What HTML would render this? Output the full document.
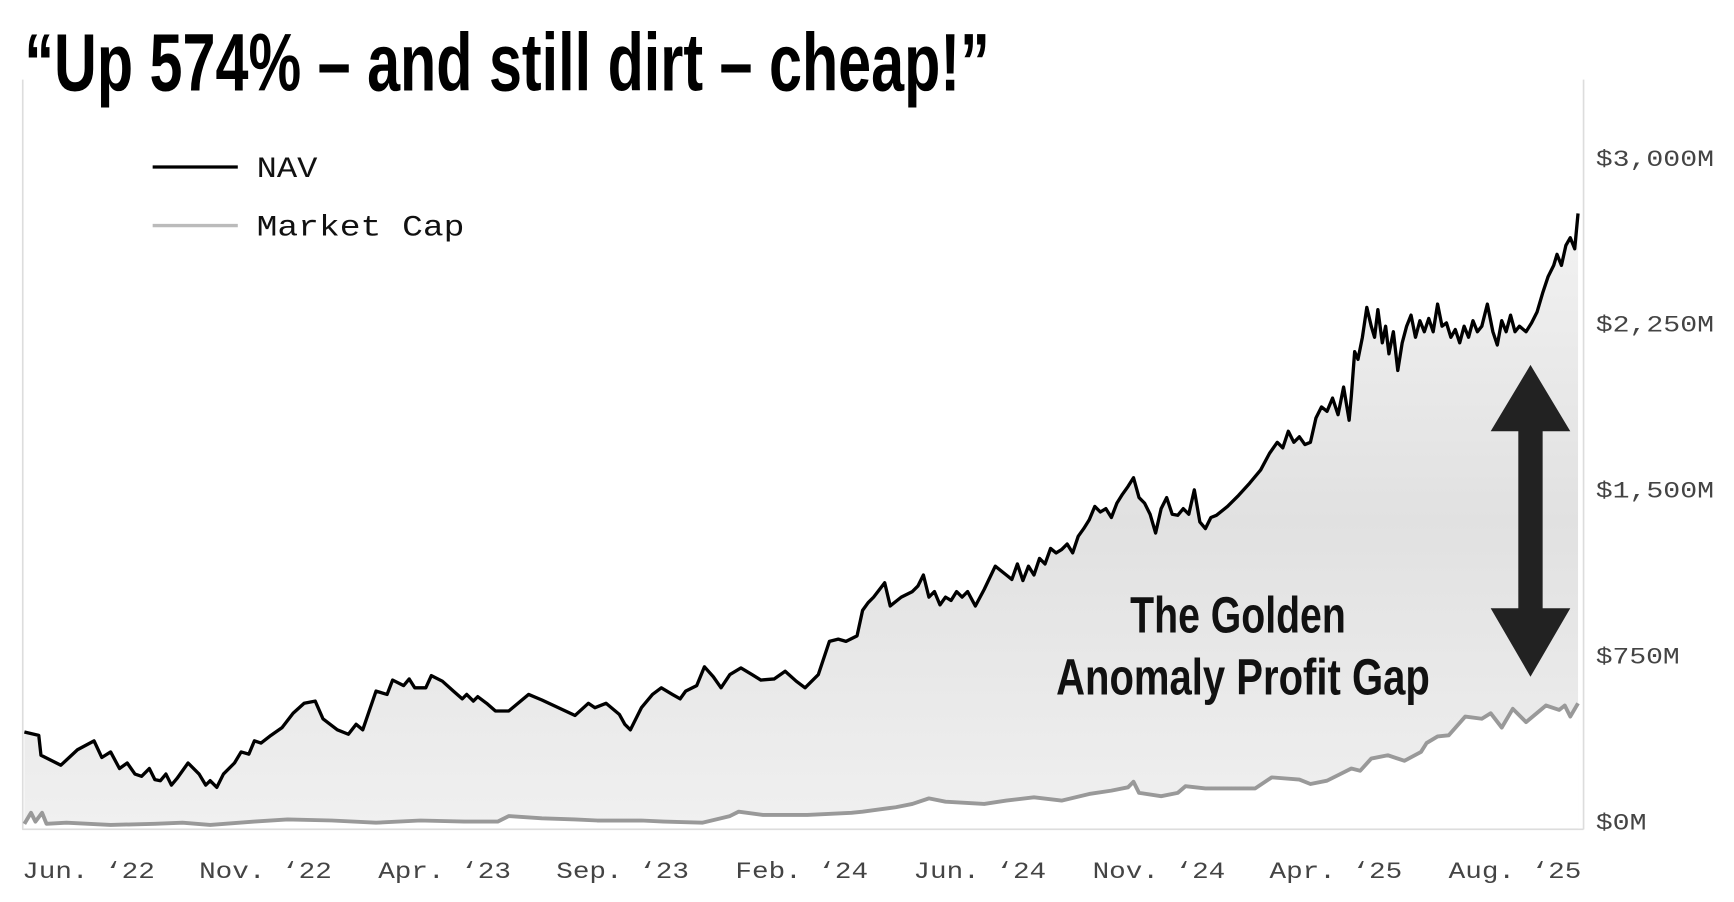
<!DOCTYPE html>
<html><head><meta charset="utf-8"><style>html,body{margin:0;padding:0;background:#fff;}svg{display:block;}</style></head>
<body>
<svg width="1734" height="902" viewBox="0 0 1568 815.7" xmlns="http://www.w3.org/2000/svg">
<defs>
<linearGradient id="g" x1="0" y1="0" x2="0" y2="1">
<stop offset="0" stop-color="#f2f2f2"/><stop offset="0.5" stop-color="#e1e1e1"/><stop offset="1" stop-color="#f0f0f0"/>
</linearGradient>
</defs>
<text x="22" y="82" font-family="Liberation Sans, sans-serif" font-weight="bold" font-size="74" textLength="873" lengthAdjust="spacingAndGlyphs" fill="#000">“Up 574% – and still dirt – cheap!”</text>
<line x1="20.5" y1="72" x2="20.5" y2="750" stroke="#ddd" stroke-width="1.5"/>
<line x1="1432" y1="72" x2="1432" y2="750" stroke="#ddd" stroke-width="1.5"/>
<line x1="20" y1="750" x2="1432" y2="750" stroke="#ddd" stroke-width="1.5"/>
<path fill="url(#g)" stroke="none" d="M22,662 L35,665 37,683 55,692 70,678 85,670 92,685 100,680 108,695 115,690 122,700 128,702 135,695 140,705 145,706 150,700 155,710 160,704 170,690 180,700 186,710 190,706 196,712 202,700 212,690 218,680 225,682 230,670 236,672 245,665 255,658 265,645 275,636 285,634 292,650 305,660 315,664 322,655 328,660 340,625 350,628 355,615 365,620 370,614 375,622 385,622 390,611 400,616 410,625 418,632 422,628 428,634 432,630 440,636 448,643 460,643 478,628 490,633 505,640 520,647 532,636 538,640 548,636 560,646 565,655 570,660 580,640 590,628 598,622 608,628 615,632 620,625 630,620 637,603 645,612 652,622 660,610 670,604 680,610 688,615 700,614 710,607 720,616 728,622 740,610 750,580 758,578 765,580 775,575 780,552 785,545 790,540 800,527 805,548 815,540 825,535 830,530 835,520 840,540 845,535 850,547 855,540 860,543 865,535 870,540 875,535 882,548 890,533 900,512 910,520 915,524 920,510 925,525 930,512 935,520 940,505 945,510 950,496 955,500 960,497 965,492 970,500 975,485 980,478 985,470 990,458 995,463 1000,460 1005,468 1010,455 1015,447 1020,440 1025,432 1030,450 1035,455 1040,465 1045,482 1050,460 1055,450 1060,465 1065,466 1070,460 1075,465 1080,443 1085,472 1090,478 1095,468 1100,466 1110,458 1120,448 1130,437 1140,425 1148,410 1155,400 1160,405 1165,390 1170,400 1175,395 1180,402 1185,400 1190,378 1195,368 1200,372 1205,360 1210,375 1215,350 1220,380 1222,358 1225,318 1228,325 1232,305 1236,278 1240,295 1243,305 1246,280 1250,310 1253,295 1256,320 1260,300 1264,335 1268,310 1272,295 1276,285 1280,305 1284,290 1288,300 1292,288 1296,300 1300,275 1304,295 1308,292 1312,305 1316,298 1320,310 1324,295 1328,305 1332,290 1336,300 1340,295 1345,275 1350,300 1354,312 1358,290 1362,300 1366,285 1370,300 1374,295 1380,300 1385,292 1390,282 1395,265 1400,250 1405,240 1408,230 1412,240 1416,222 1420,215 1424,225 1427,193 L1427,749 L22,749 Z"/>
<polyline fill="none" stroke="#000" stroke-width="3" stroke-linejoin="round" points="22,662 35,665 37,683 55,692 70,678 85,670 92,685 100,680 108,695 115,690 122,700 128,702 135,695 140,705 145,706 150,700 155,710 160,704 170,690 180,700 186,710 190,706 196,712 202,700 212,690 218,680 225,682 230,670 236,672 245,665 255,658 265,645 275,636 285,634 292,650 305,660 315,664 322,655 328,660 340,625 350,628 355,615 365,620 370,614 375,622 385,622 390,611 400,616 410,625 418,632 422,628 428,634 432,630 440,636 448,643 460,643 478,628 490,633 505,640 520,647 532,636 538,640 548,636 560,646 565,655 570,660 580,640 590,628 598,622 608,628 615,632 620,625 630,620 637,603 645,612 652,622 660,610 670,604 680,610 688,615 700,614 710,607 720,616 728,622 740,610 750,580 758,578 765,580 775,575 780,552 785,545 790,540 800,527 805,548 815,540 825,535 830,530 835,520 840,540 845,535 850,547 855,540 860,543 865,535 870,540 875,535 882,548 890,533 900,512 910,520 915,524 920,510 925,525 930,512 935,520 940,505 945,510 950,496 955,500 960,497 965,492 970,500 975,485 980,478 985,470 990,458 995,463 1000,460 1005,468 1010,455 1015,447 1020,440 1025,432 1030,450 1035,455 1040,465 1045,482 1050,460 1055,450 1060,465 1065,466 1070,460 1075,465 1080,443 1085,472 1090,478 1095,468 1100,466 1110,458 1120,448 1130,437 1140,425 1148,410 1155,400 1160,405 1165,390 1170,400 1175,395 1180,402 1185,400 1190,378 1195,368 1200,372 1205,360 1210,375 1215,350 1220,380 1222,358 1225,318 1228,325 1232,305 1236,278 1240,295 1243,305 1246,280 1250,310 1253,295 1256,320 1260,300 1264,335 1268,310 1272,295 1276,285 1280,305 1284,290 1288,300 1292,288 1296,300 1300,275 1304,295 1308,292 1312,305 1316,298 1320,310 1324,295 1328,305 1332,290 1336,300 1340,295 1345,275 1350,300 1354,312 1358,290 1362,300 1366,285 1370,300 1374,295 1380,300 1385,292 1390,282 1395,265 1400,250 1405,240 1408,230 1412,240 1416,222 1420,215 1424,225 1427,193"/>
<path fill="#fff" d="M22,745 L28,735 32,743 38,735 42,745 60,744 100,746 140,745 165,744 190,746 230,743 260,741 300,742 340,744 380,742 420,743 450,743 460,738 490,740 520,741 540,742 560,742 580,742 600,743 635,744 660,738 668,734 690,737 730,737 770,735 780,734 795,732 810,730 825,727 840,722 855,725 890,727 910,724 935,721 960,724 985,718 1005,715 1020,712 1025,707 1030,717 1050,720 1065,717 1072,711 1090,713 1135,713 1150,703 1175,705 1185,709 1200,706 1212,700 1222,695 1230,697 1240,686 1255,683 1270,688 1285,680 1290,672 1300,666 1310,665 1325,648 1340,650 1348,645 1358,658 1368,641 1380,653 1398,638 1410,642 1415,638 1420,648 1427,636 L1427,749 L22,749 Z"/>
<polyline fill="none" stroke="#999" stroke-width="3.5" stroke-linejoin="round" points="22,745 28,735 32,743 38,735 42,745 60,744 100,746 140,745 165,744 190,746 230,743 260,741 300,742 340,744 380,742 420,743 450,743 460,738 490,740 520,741 540,742 560,742 580,742 600,743 635,744 660,738 668,734 690,737 730,737 770,735 780,734 795,732 810,730 825,727 840,722 855,725 890,727 910,724 935,721 960,724 985,718 1005,715 1020,712 1025,707 1030,717 1050,720 1065,717 1072,711 1090,713 1135,713 1150,703 1175,705 1185,709 1200,706 1212,700 1222,695 1230,697 1240,686 1255,683 1270,688 1285,680 1290,672 1300,666 1310,665 1325,648 1340,650 1348,645 1358,658 1368,641 1380,653 1398,638 1410,642 1415,638 1420,648 1427,636"/>
<polygon fill="#222" points="1384,330 1420,390 1395,390 1395,550 1420,550 1384,612 1348,550 1373,550 1373,390 1348,390"/>
<g font-family="Liberation Sans, sans-serif" font-weight="bold" fill="#111" font-size="46">
<text x="1022" y="572" textLength="195" lengthAdjust="spacingAndGlyphs">The Golden</text>
<text x="955" y="628" textLength="338" lengthAdjust="spacingAndGlyphs">Anomaly Profit Gap</text>
</g>
<line x1="138" y1="151" x2="215" y2="151" stroke="#000" stroke-width="3"/>
<line x1="138" y1="204" x2="215" y2="204" stroke="#bbb" stroke-width="3"/>
<g font-family="Liberation Mono, monospace" fill="#111" font-size="27">
<text x="232" y="160" textLength="55" lengthAdjust="spacingAndGlyphs">NAV</text>
<text x="232" y="213" textLength="188" lengthAdjust="spacingAndGlyphs">Market Cap</text>
</g>
<g font-family="Liberation Mono, monospace" fill="#444" font-size="21">
<text x="1443" y="150" textLength="107" lengthAdjust="spacingAndGlyphs">$3,000M</text>
<text x="1443" y="300" textLength="107" lengthAdjust="spacingAndGlyphs">$2,250M</text>
<text x="1443" y="450" textLength="107" lengthAdjust="spacingAndGlyphs">$1,500M</text>
<text x="1443" y="600" textLength="76" lengthAdjust="spacingAndGlyphs">$750M</text>
<text x="1443" y="750" textLength="46" lengthAdjust="spacingAndGlyphs">$0M</text>
</g>
<g font-family="Liberation Mono, monospace" fill="#444" font-size="21">
<text x="20" y="794" textLength="120" lengthAdjust="spacingAndGlyphs">Jun. ‘22</text>
<text x="180" y="794" textLength="120" lengthAdjust="spacingAndGlyphs">Nov. ‘22</text>
<text x="342" y="794" textLength="120" lengthAdjust="spacingAndGlyphs">Apr. ‘23</text>
<text x="503" y="794" textLength="120" lengthAdjust="spacingAndGlyphs">Sep. ‘23</text>
<text x="665" y="794" textLength="120" lengthAdjust="spacingAndGlyphs">Feb. ‘24</text>
<text x="826" y="794" textLength="120" lengthAdjust="spacingAndGlyphs">Jun. ‘24</text>
<text x="988" y="794" textLength="120" lengthAdjust="spacingAndGlyphs">Nov. ‘24</text>
<text x="1148" y="794" textLength="120" lengthAdjust="spacingAndGlyphs">Apr. ‘25</text>
<text x="1310" y="794" textLength="120" lengthAdjust="spacingAndGlyphs">Aug. ‘25</text>
</g>
</svg>
</body></html>
